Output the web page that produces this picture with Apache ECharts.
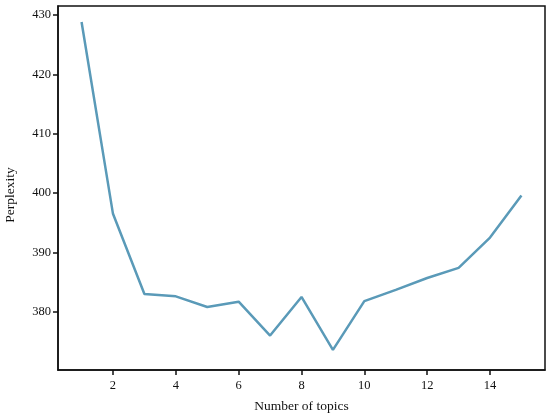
<!DOCTYPE html>
<html><head><meta charset="utf-8">
<script src="https://cdn.jsdelivr.net/npm/echarts@6/dist/echarts.min.js"></script>
<style>html,body{margin:0;padding:0;background:#fff}#c{width:550px;height:418px}</style>
</head><body><div id="c"></div>
<script>
var topics = [1,2,3,4,5,6,7,8,9,10,11,12,13,14,15];
var perplexity = [428.8,396.5,383.0,382.6,380.8,381.7,376.0,382.5,373.6,381.8,383.7,385.7,387.4,392.5,399.6];
var xTicks = [2,4,6,8,10,12,14];
var yTicks = [380,390,400,410,420,430];

var chart = echarts.init(document.getElementById('c'));
var font = 'Liberation Serif';
chart.setOption({
  animation:false,
  grid:{left:58,top:6,right:5,bottom:48,outerBoundsMode:'none',containLabel:false,show:true,borderColor:'#111',borderWidth:1.5,backgroundColor:'#fff'},
  xAxis:{type:'value',min:0.25,max:15.75,name:'Number of topics',nameLocation:'middle',nameGap:29,
    nameTextStyle:{fontFamily:font,fontSize:13.5,color:'#111'},
    axisLine:{show:true,lineStyle:{color:'#111',width:1.5}},
    axisTick:{show:true,inside:false,length:5,customValues:xTicks,lineStyle:{color:'#111',width:1.5}},
    axisLabel:{customValues:xTicks,fontFamily:font,fontSize:12.5,color:'#111',margin:9},
    splitLine:{show:false}},
  yAxis:{type:'value',min:370.2,max:431.5,name:'Perplexity',nameLocation:'middle',nameGap:41,
    nameTextStyle:{fontFamily:font,fontSize:13.5,color:'#111',padding:[0,14,0,0]},
    axisLine:{show:true,lineStyle:{color:'#111',width:1.5}},
    axisTick:{show:true,inside:false,length:5,customValues:yTicks,lineStyle:{color:'#111',width:1.5}},
    axisLabel:{customValues:yTicks,fontFamily:font,fontSize:12.5,color:'#111',margin:7},
    splitLine:{show:false}},
  series:[{type:'line',data:topics.map(function(t,i){return [t,perplexity[i]];}),
    showSymbol:false,lineStyle:{color:'#5a9ab8',width:2.5},itemStyle:{color:'#5a9ab8'}}]
});
</script></body></html>
